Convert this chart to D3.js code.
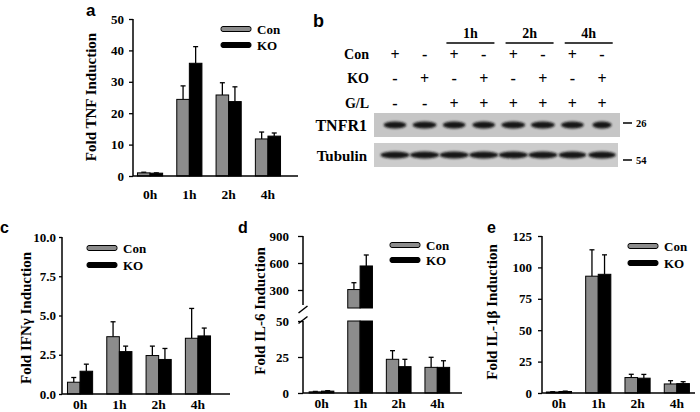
<!DOCTYPE html>
<html><head><meta charset="utf-8">
<script src="https://cdn.jsdelivr.net/npm/d3@7"></script>
<style>
body{margin:0;background:#fff;}
svg{display:block;}
text{font-family:"Liberation Serif","Times New Roman",serif;font-weight:bold;fill:#000;}
.plab{font-family:"Liberation Sans",Arial,sans-serif;font-weight:bold;}
</style></head><body>
<svg id="chart" width="700" height="412"></svg>
<script>
// ---------- data ----------
const hours = ['0h','1h','2h','4h'];
const series = ['Con','KO'];

const tnfCon = [1.0, 24.4, 25.8, 11.8];
const tnfConErr = [0.2, 4.3, 3.9, 2.2];
const tnfKO = [0.9, 35.9, 23.7, 12.7];
const tnfKOErr = [0.1, 5.3, 4.7, 1.0];
const tnfTicks = [0, 10, 20, 30, 40, 50];

const ifnCon = [0.75, 3.65, 2.45, 3.55];
const ifnConErr = [0.3, 0.95, 0.6, 1.9];
const ifnKO = [1.45, 2.7, 2.2, 3.7];
const ifnKOErr = [0.45, 0.35, 0.7, 0.5];
const ifnTicks = [0, 2.5, 5, 7.5, 10];

const il6Con = [0.8, 305, 23.4, 17.8];
const il6ConErr = [0.3, 76, 6.0, 7.0];
const il6KO = [1.3, 567, 18.3, 17.8];
const il6KOErr = [0.3, 122, 5.1, 4.6];
const il6LowTicks = [0, 25, 50];
const il6HighTicks = [300, 600, 900];

const il1Con = [0.8, 93, 12.3, 7.2];
const il1ConErr = [0.2, 21, 2.6, 2.6];
const il1KO = [1.2, 94.5, 11.8, 7.5];
const il1KOErr = [0.3, 15.5, 3.0, 1.5];
const il1Ticks = [0, 25, 50, 75, 100, 125];

// western blot (panel b)
const laneCon = ['+','-','+','-','+','-','+','-'];
const laneKO  = ['-','+','-','+','-','+','-','+'];
const laneGL  = ['-','-','+','+','+','+','+','+'];
const blotTimes = ['1h','2h','4h'];
const tnfr1Band = [0.95, 1.0, 0.95, 0.95, 1.0, 1.0, 0.95, 0.8];
const tubulinBand = [1.0, 1.0, 1.0, 1.0, 1.0, 1.0, 0.95, 0.95];
const markers = ['26', '54'];

// ---------- drawing ----------
const svg = d3.select('#chart');
const GRAY = '#8c8c8c';

const defs = svg.append('defs');
defs.append('filter').attr('id','blur').attr('x','-30%').attr('y','-80%').attr('width','160%').attr('height','260%')
  .append('feGaussianBlur').attr('stdDeviation', 1.1);

function panel(cfg){
  const g = svg.append('g');
  const x0 = d3.scaleBand().domain(hours).range(cfg.xr).paddingInner(0.36).paddingOuter(0.18);
  const x1 = d3.scaleBand().domain(series).range([0, x0.bandwidth()]);
  const segs = cfg.segs;
  const base = segs[0].s(segs[0].lo);
  function ypos(v){
    for (let i = segs.length-1; i >= 0; i--) { if (v >= segs[i].lo) return segs[i].s(Math.min(v, segs[i].hi)); }
    return segs[0].s(v);
  }
  const rows = [];
  hours.forEach((h,i)=>{
    rows.push({h, s:'Con', v:cfg.con[i], e:cfg.conErr[i]});
    rows.push({h, s:'KO', v:cfg.ko[i], e:cfg.koErr[i]});
  });
  rows.forEach(r=>{
    const cx = x0(r.h) + x1(r.s) + x1.bandwidth()/2;
    const yt = ypos(r.v + r.e), yb = ypos(r.v);
    g.append('line').attr('x1',cx).attr('x2',cx).attr('y1',yb).attr('y2',yt).attr('stroke','#000').attr('stroke-width',1.3);
    g.append('line').attr('x1',cx-2.5).attr('x2',cx+2.5).attr('y1',yt).attr('y2',yt).attr('stroke','#000').attr('stroke-width',1.3);
  });
  rows.forEach(r=>{
    segs.forEach(sg=>{
      if (r.v > sg.lo) {
        const top = sg.s(Math.min(r.v, sg.hi)), bot = sg.s(sg.lo);
        g.append('rect').attr('x', x0(r.h)+x1(r.s)).attr('y', top)
          .attr('width', x1.bandwidth()).attr('height', bot-top)
          .attr('fill', r.s==='Con'?GRAY:'#000').attr('stroke','#000').attr('stroke-width',1);
      }
    });
  });
  segs.forEach(sg=>{
    const ax = g.append('g').attr('transform',`translate(${cfg.ax},0)`)
      .call(d3.axisLeft(sg.s).tickValues(sg.ticks).tickSize(cfg.ts).tickPadding(cfg.tp).tickSizeOuter(0).tickFormat(cfg.fmt));
    ax.select('.domain').attr('stroke-width',1.5).attr('d',`M0,${sg.s.range()[0]+ (sg.cut0||0)}V${sg.s.range()[1]}`);
    ax.selectAll('.tick line').attr('stroke-width',1.3);
    ax.selectAll('.tick text').attr('font-size',13).style('font-family','"Liberation Serif",serif').style('font-weight','bold');
  });
  g.append('line').attr('x1',cfg.ax).attr('x2',cfg.xend).attr('y1',base).attr('y2',base).attr('stroke','#000').attr('stroke-width',1.5);
  const xa = g.append('g').attr('transform',`translate(0,${base})`).call(d3.axisBottom(x0).tickSize(0).tickPadding(cfg.xp));
  xa.select('.domain').remove();
  xa.selectAll('.tick text').attr('font-size',13.5).style('font-family','"Liberation Serif",serif').style('font-weight','bold');
  g.append('text').attr('transform',`translate(${cfg.tx},${cfg.ty}) rotate(-90)`).attr('text-anchor','middle')
    .attr('font-size',15).text(cfg.title);
  series.forEach((s,i)=>{
    const ly = cfg.leg[1] + i*cfg.leg[2];
    g.append('rect').attr('x',cfg.leg[0]).attr('y',ly-2.5).attr('width',30).attr('height',5).attr('rx',2)
      .attr('fill', s==='Con'?GRAY:'#000').attr('stroke','#000').attr('stroke-width',1);
    g.append('text').attr('x',cfg.leg[0]+36).attr('y',ly).attr('dy','0.35em').attr('font-size',13).text(s);
  });
  g.append('text').attr('class','plab').attr('x',cfg.pl[0]).attr('y',cfg.pl[1]).attr('font-size',cfg.pl[2]).text(cfg.letter);
  return g;
}

// a
panel({letter:'a', pl:[86,15.5,17], xr:[130.4,287.6], ax:133, xend:298, xp:13,
  segs:[{s:d3.scaleLinear().domain([0,50]).range([176,19]), lo:0, hi:50, ticks:tnfTicks}],
  ts:4, tp:5, fmt:d3.format('d'),
  con:tnfCon, conErr:tnfConErr, ko:tnfKO, koErr:tnfKOErr,
  title:'Fold TNF Induction', tx:96, ty:97, leg:[221,29,16]});

// c
panel({letter:'c', pl:[0,233,16], xr:[60.4,217.6], ax:62, xend:230, xp:5,
  segs:[{s:d3.scaleLinear().domain([0,10]).range([394,237]), lo:0, hi:10, ticks:ifnTicks}],
  ts:3, tp:3, fmt:d3.format('.1f'),
  con:ifnCon, conErr:ifnConErr, ko:ifnKO, koErr:ifnKOErr,
  title:'Fold IFNγ Induction', tx:31, ty:318, leg:[87,248,17]});

// d (broken axis)
const gD = panel({letter:'d', pl:[238,233,16], xr:[302.2,456.6], ax:303, xend:462, xp:5,
  segs:[{s:d3.scaleLinear().domain([0,50]).range([393,321]), lo:0, hi:50, ticks:il6LowTicks, cut0:0},
        {s:d3.scaleLinear().domain([100,900]).range([308,236]), lo:100, hi:900, ticks:il6HighTicks, cut0:-3}],
  ts:5, tp:9, fmt:d3.format('d'),
  con:il6Con, conErr:il6ConErr, ko:il6KO, koErr:il6KOErr,
  title:'Fold IL-6 Induction', tx:265, ty:311, leg:[390,245,15]});
[309.5, 320].forEach(yb=>{
  gD.append('line').attr('x1',298.5).attr('x2',307.5).attr('y1',yb+3.5).attr('y2',yb-3.5).attr('stroke','#000').attr('stroke-width',1.5);
});

// e
panel({letter:'e', pl:[487,233,16], xr:[539.3,696.5], ax:542, xend:695, xp:5,
  segs:[{s:d3.scaleLinear().domain([0,125]).range([393,236]), lo:0, hi:125, ticks:il1Ticks}],
  ts:4, tp:6, fmt:d3.format('d'),
  con:il1Con, conErr:il1ConErr, ko:il1KO, koErr:il1KOErr,
  title:'Fold IL-1β Induction', tx:497, ty:312, leg:[628,246,17]});

// ---------- panel b: blot ----------
const gb = svg.append('g');
gb.append('text').attr('class','plab').attr('x',313).attr('y',27).attr('font-size',18).text('b');
const lx = d3.scalePoint().domain(d3.range(8)).range([395,602]);
const rowsB = [['Con',laneCon,54],['KO',laneKO,78],['G/L',laneGL,103]];
rowsB.forEach(([name, signs, y])=>{
  gb.append('text').attr('x',369).attr('y',y).attr('dy','0.35em').attr('text-anchor','end').attr('font-size',14).text(name);
  signs.forEach((s,i)=>{
    gb.append('text').attr('x',lx(i)).attr('y',y).attr('dy','0.35em').attr('text-anchor','middle')
      .attr('font-size',16).text(s);
  });
});
blotTimes.forEach((t,k)=>{
  const a = lx(2+2*k), b = lx(3+2*k), c = (a+b)/2 + 1.5;
  gb.append('text').attr('x',c).attr('y',38).attr('text-anchor','middle').attr('font-size',14).text(t);
  gb.append('line').attr('x1',c-24).attr('x2',c+24).attr('y1',43).attr('y2',43).attr('stroke','#000').attr('stroke-width',1.6);
});
function blot(y0, y1, x1, bg, bands, rx, name, labY, fs){
  gb.append('rect').attr('x',374).attr('y',y0).attr('width',x1-374).attr('height',y1-y0).attr('fill',bg);
  const cy = (y0+y1)/2;
  bands.forEach((w,i)=>{
    gb.append('ellipse').attr('cx',lx(i)).attr('cy',cy).attr('rx',rx*w).attr('ry',3.4)
      .attr('fill','#151515').attr('filter','url(#blur)');
  });
  gb.append('text').attr('x',367).attr('y',labY).attr('text-anchor','end').attr('font-size',fs).text(name);
}
blot(113, 137, 620, '#c6c6c6', tnfr1Band, 12, 'TNFR1', 131, 16);
blot(143, 167, 618, '#cccccc', tubulinBand, 14.5, 'Tubulin', 161, 15);
[[123, markers[0]], [160, markers[1]]].forEach(([y,m])=>{
  gb.append('line').attr('x1',623).attr('x2',632).attr('y1',y).attr('y2',y).attr('stroke','#000').attr('stroke-width',1.5);
  gb.append('text').attr('x',636).attr('y',y).attr('dy','0.35em').attr('font-size',10.5).text(m);
});
</script>
</body></html>
